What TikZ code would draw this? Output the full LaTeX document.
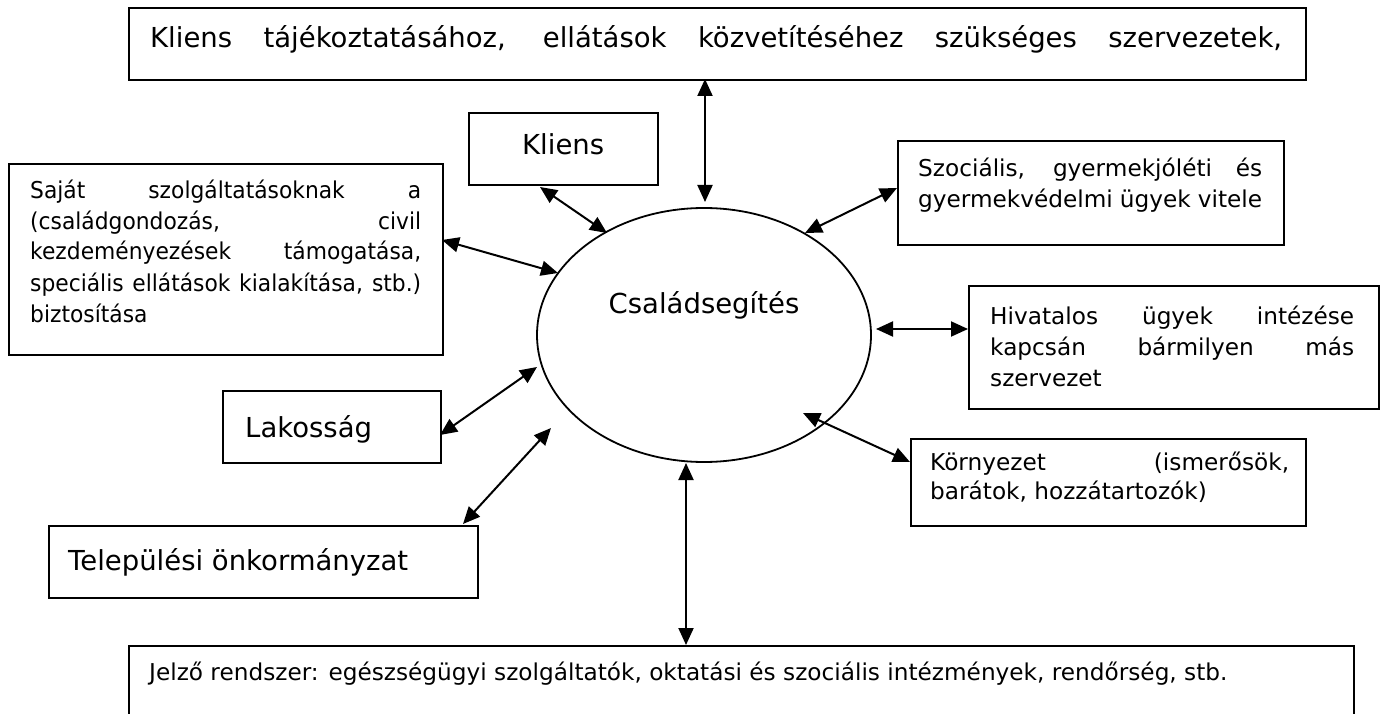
\documentclass[tikz,border=0pt]{standalone}
\usepackage{fontspec}
\setmainfont{DejaVu Sans}
\newfontfamily\narrowf{DejaVu Sans}[FakeStretch=0.94]
\usetikzlibrary{arrows.meta,shapes.geometric}
\newcommand{\jl}[1]{\makebox[\linewidth][s]{#1}}
\newcommand{\smallf}{\fontsize{23.2}{31}\selectfont}
\begin{document}
\begin{tikzpicture}[x=1pt,y=-1pt,
  box/.style={draw, line width=2pt, inner sep=0pt, anchor=north west},
  txt/.style={inner sep=0pt, anchor=base west},
  bigf/.style={font=\fontsize{27.5}{34}\selectfont},
  link/.style={line width=2pt, {Triangle[length=17pt,width=15pt]}-{Triangle[length=17pt,width=15pt]}}]
\useasboundingbox (0,0) rectangle (1383,714);
% boxes
\node[box, minimum width=1177pt, minimum height=72pt] (btop) at (128,7) {};
\node[box, minimum width=189pt, minimum height=72pt] (bkl) at (468,112) {};
\node[box, minimum width=434pt, minimum height=191pt] (bleft) at (8,163) {};
\node[box, minimum width=386pt, minimum height=104pt] (bszoc) at (897,140) {};
\node[box, minimum width=410pt, minimum height=123pt] (bhiv) at (968,285) {};
\node[box, minimum width=395pt, minimum height=87pt] (bkor) at (910,438) {};
\node[box, minimum width=218pt, minimum height=72pt] (blak) at (222,390) {};
\node[box, minimum width=429pt, minimum height=72pt] (btel) at (48,525) {};
\node[box, minimum width=1225pt, minimum height=90pt] (bbot) at (128,645) {};
\node[draw, line width=1.8pt, ellipse, minimum width=334pt, minimum height=254pt, inner sep=0pt] (ell) at (704,335) {};
% texts
\node[txt, bigf] (ttop) at (150,48) {\makebox[1132pt][s]{Kliens tájékoztatásához, ellátások közvetítéséhez szükséges szervezetek,}};
\node[txt, bigf] (tkl) at (522,155) {Kliens};
\node[inner sep=0pt, anchor=base, bigf] (tcs) at (704,313) {Családsegítés};
\node[txt, bigf] (tlak) at (245,437) {Lakosság};
\node[txt, bigf] (ttel) at (68,570) {Települési önkormányzat};
\node[txt] (tleft) at (30,198) {\parbox[t]{391pt}{\smallf\narrowf
  \jl{Saját szolgáltatásoknak a}\\
  \jl{(családgondozás, civil}\\
  \jl{kezdeményezések támogatása,}\\
  \jl{speciális ellátások kialakítása, stb.)}\\
  biztosítása}};
\node[txt] (tszoc) at (918,177) {\parbox[t]{344pt}{\smallf
  \jl{Szociális, gyermekjóléti és}\\
  gyermekvédelmi ügyek vitele}};
\node[txt] (thiv) at (990,324) {\parbox[t]{364pt}{\smallf
  \jl{Hivatalos ügyek intézése}\\
  \jl{kapcsán bármilyen más}\\
  szervezet}};
\node[txt] (tkor) at (930,470) {\parbox[t]{359pt}{\fontsize{23.2}{29}\selectfont
  \jl{Környezet (ismerősök,}\\
  barátok, hozzátartozók)}};
\node[txt] (tbot) at (149,680) {\smallf Jelző rendszer: egészségügyi szolgáltatók, oktatási és szociális intézmények, rendőrség, stb.};
% arrow end points
\coordinate (a1) at (705,79);  \coordinate (a2) at (705,202);
\coordinate (b1) at (540,187); \coordinate (b2) at (607,233);
\coordinate (c1) at (897,188); \coordinate (c2) at (805,233);
\coordinate (d1) at (442,240); \coordinate (d2) at (558,273);
\coordinate (e1) at (876,329); \coordinate (e2) at (968,329);
\coordinate (f1) at (440,435); \coordinate (f2) at (537,367);
\coordinate (g1) at (463,524); \coordinate (g2) at (551,428);
\coordinate (h1) at (686,463); \coordinate (h2) at (686,645);
\coordinate (i1) at (803,413); \coordinate (i2) at (910,462);
\draw[link] (a1) -- (a2);
\draw[link] (b1) -- (b2);
\draw[link] (c1) -- (c2);
\draw[link] (d1) -- (d2);
\draw[link] (e1) -- (e2);
\draw[link] (f1) -- (f2);
\draw[link] (g1) -- (g2);
\draw[link] (h1) -- (h2);
\draw[link] (i1) -- (i2);
\end{tikzpicture}
\end{document}
